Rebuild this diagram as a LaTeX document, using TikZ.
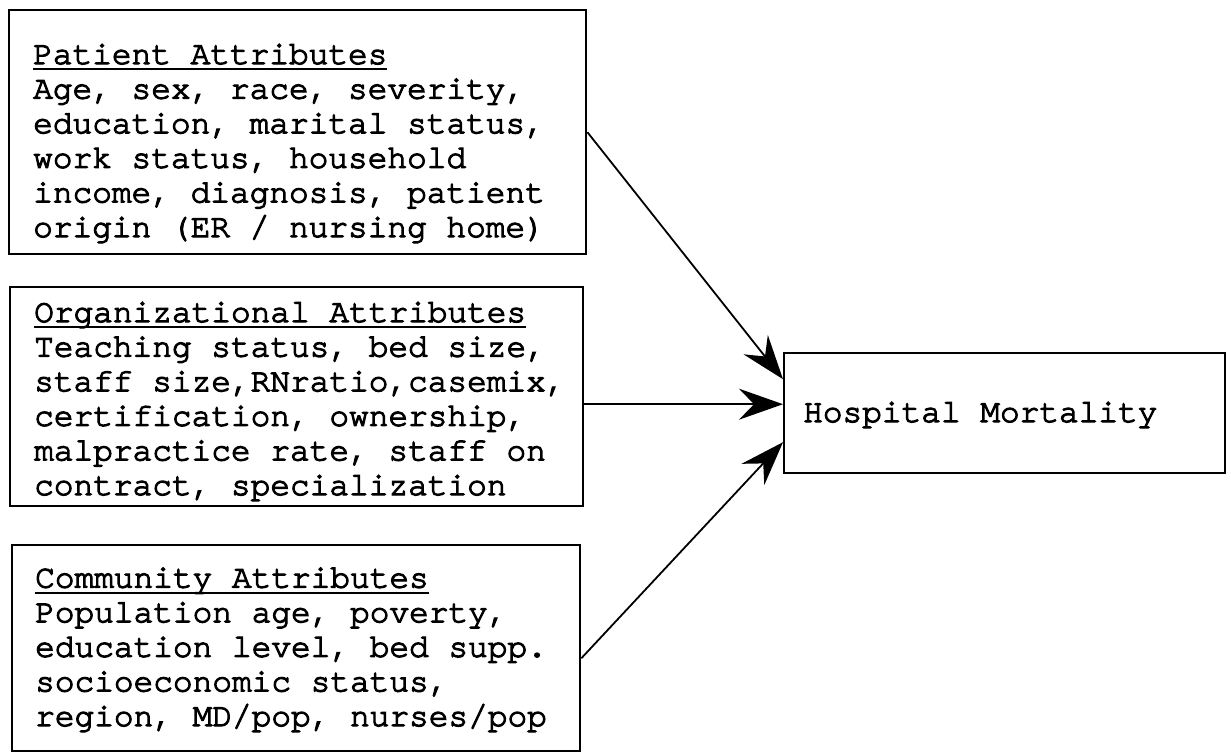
\documentclass[tikz,border=0pt]{standalone}
\usepackage{fontspec}
\newfontfamily\typewriter{TeX Gyre Cursor}[FakeBold=3.5,Ligatures=NoCommon]
\usetikzlibrary{arrows.meta}
% typewriter-style underline: a rule at a fixed depth below the baseline
\newcommand\hdrule[1]{\setbox0\hbox{#1}\rlap{\rule[-6pt]{\wd0}{1.8pt}}\box0}
\begin{document}
\begin{tikzpicture}[x=1pt,y=-1pt,
  box/.style={draw, line width=2.4pt, inner sep=0pt, anchor=north west},
  txt/.style={anchor=base west, align=left, inner sep=0pt,
    font=\typewriter\fontsize{32.8}{34.6}\selectfont},
  link/.style={line width=1.8pt, -{Stealth[length=44pt,width=31pt,inset=15pt]}}]
\useasboundingbox (0,0) rectangle (1231,754);

% attribute boxes
\node[box, minimum width=577pt, minimum height=244pt] (pat) at (8,9) {};
\node[box, minimum width=573pt, minimum height=219pt] (org) at (9,286) {};
\node[box, minimum width=568pt, minimum height=206pt] (com) at (11,544) {};
\node[box, minimum width=441pt, minimum height=120pt] (hm) at (783,352) {};

% box contents (anchored at the baseline of the last line)
\node[txt] (pattxt) at (33,237) {\hdrule{Patient Attributes}\\
Age, sex, race, severity,\\
education, marital status,\\
work status, household\\
income, diagnosis, patient\\
origin (ER / nursing home)};

\node[txt] (orgtxt) at (34,495) {\hdrule{Organizational Attributes}\\
Teaching status, bed size,\\
staff size,RNratio,casemix,\\
certification, ownership,\\
malpractice rate, staff on\\
contract, specialization};

\node[txt] (comtxt) at (35,726) {\hdrule{Community Attributes}\\
Population age, poverty,\\
education level, bed supp.\\
socioeconomic status,\\
region, MD/pop, nurses/pop};

\node[txt] (hmtxt) at (803,422) {Hospital Mortality};

% influences on mortality
\draw[link] (pat.east) -- ([yshift=34pt]hm.west);
\draw[link] ([yshift=-7.5pt]org.east) -- ([yshift=9pt]hm.west);
\draw[link] ([yshift=-10pt]com.east) -- ([yshift=-29pt]hm.west);
\end{tikzpicture}
\end{document}
